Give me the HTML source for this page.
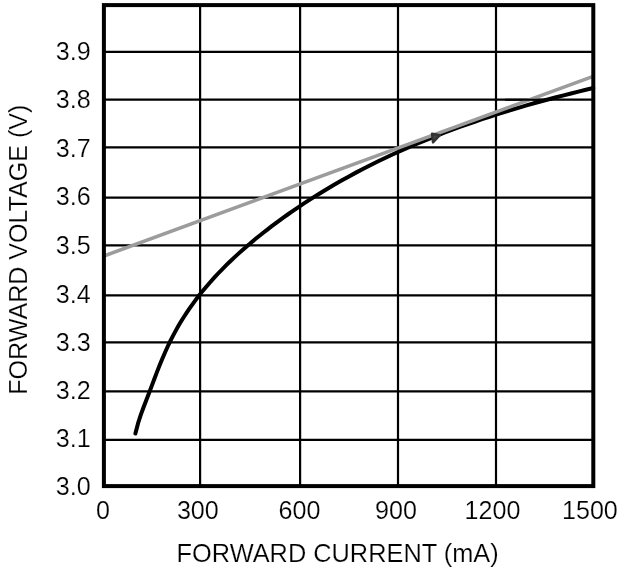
<!DOCTYPE html>
<html><head><meta charset="utf-8"><style>
html,body{margin:0;padding:0;background:#fff;}
svg{display:block;filter:grayscale(1);}
text{font-family:"Liberation Sans",sans-serif;font-size:26px;fill:#000;stroke:#fff;stroke-width:0.2px;}
</style></head><body>
<svg width="627" height="570" viewBox="0 0 627 570">
<rect width="627" height="570" fill="#fff"/>
<g stroke="#000" stroke-width="2.2" fill="none">
<line x1="200.1" y1="5.1" x2="200.1" y2="486.1"/>
<line x1="300.1" y1="5.1" x2="300.1" y2="486.1"/>
<line x1="398.0" y1="5.1" x2="398.0" y2="486.1"/>
<line x1="496.0" y1="5.1" x2="496.0" y2="486.1"/>
<line x1="103.9" y1="51.9" x2="593.3" y2="51.9"/>
<line x1="103.9" y1="99.7" x2="593.3" y2="99.7"/>
<line x1="103.9" y1="147.3" x2="593.3" y2="147.3"/>
<line x1="103.9" y1="197.6" x2="593.3" y2="197.6"/>
<line x1="103.9" y1="245.4" x2="593.3" y2="245.4"/>
<line x1="103.9" y1="295.4" x2="593.3" y2="295.4"/>
<line x1="103.9" y1="342.4" x2="593.3" y2="342.4"/>
<line x1="103.9" y1="391.3" x2="593.3" y2="391.3"/>
<line x1="103.9" y1="439.9" x2="593.3" y2="439.9"/>
</g>
<path d="M135.40,433.53 L138.09,423.13 L140.78,414.86 L143.47,407.52 L146.17,400.51 L148.86,393.51 L151.55,386.38 L154.24,379.20 L156.93,372.13 L159.62,365.28 L162.32,358.71 L165.01,352.44 L167.70,346.50 L170.39,340.89 L173.08,335.61 L175.78,330.61 L178.47,325.86 L181.16,321.34 L183.85,317.01 L186.54,312.87 L189.23,308.90 L191.93,305.07 L194.62,301.38 L197.31,297.81 L200.00,294.35 L202.00,291.85 L206.08,286.92 L210.17,282.19 L214.25,277.64 L218.33,273.26 L222.42,269.03 L226.50,264.93 L230.58,260.97 L234.67,257.11 L238.75,253.36 L242.83,249.72 L246.92,246.16 L251.00,242.69 L255.08,239.29 L259.17,235.98 L263.25,232.73 L267.33,229.55 L271.42,226.43 L275.50,223.37 L279.58,220.36 L283.67,217.41 L287.75,214.50 L291.83,211.65 L295.92,208.84 L300.00,206.08 L304.00,203.43 L311.42,198.61 L318.84,193.95 L326.25,189.42 L333.67,185.03 L341.09,180.77 L348.51,176.64 L355.93,172.63 L363.34,168.73 L370.76,164.95 L378.18,161.28 L385.60,157.71 L393.02,154.24 L400.43,150.87 L407.85,147.59 L415.27,144.40 L422.69,141.30 L430.11,138.28 L437.52,135.34 L444.94,132.47 L452.36,129.69 L459.78,126.97 L467.19,124.32 L474.61,121.75 L482.03,119.23 L489.45,116.78 L496.87,114.39 L504.28,112.06 L511.70,109.78 L519.12,107.56 L526.54,105.40 L533.96,103.29 L541.37,101.22 L548.79,99.21 L556.21,97.24 L563.63,95.32 L571.05,93.44 L578.46,91.61 L585.88,89.81 L593.30,88.06" stroke="#000" stroke-width="4.0" fill="none" stroke-linecap="round" stroke-linejoin="round"/>
<line x1="104.0" y1="256.0" x2="592.5" y2="76.7" stroke="#9c9c9c" stroke-width="3.5"/>
<line x1="505" y1="99.7" x2="552" y2="99.7" stroke="#000" stroke-width="2.1"/>
<polygon points="432,133.8 439.8,135.2 433,142.4" fill="#454545" stroke="#333" stroke-width="2.4" stroke-linejoin="round"/>
<rect x="103.9" y="5.1" width="489.4" height="481.0" fill="none" stroke="#000" stroke-width="4"/>
<text transform="translate(90.6,60.31) scale(0.965,1)" text-anchor="end">3.9</text>
<text transform="translate(90.6,108.41) scale(0.965,1)" text-anchor="end">3.8</text>
<text transform="translate(90.6,157.01) scale(0.965,1)" text-anchor="end">3.7</text>
<text transform="translate(90.6,205.31) scale(0.965,1)" text-anchor="end">3.6</text>
<text transform="translate(90.6,253.71) scale(0.965,1)" text-anchor="end">3.5</text>
<text transform="translate(90.6,302.91) scale(0.965,1)" text-anchor="end">3.4</text>
<text transform="translate(90.6,351.21) scale(0.965,1)" text-anchor="end">3.3</text>
<text transform="translate(90.6,398.71) scale(0.965,1)" text-anchor="end">3.2</text>
<text transform="translate(90.6,446.91) scale(0.965,1)" text-anchor="end">3.1</text>
<text transform="translate(90.6,495.41) scale(0.965,1)" text-anchor="end">3.0</text>
<text transform="translate(102.90,518.6) scale(0.965,1)" text-anchor="middle">0</text>
<text transform="translate(197.80,518.6) scale(0.965,1)" text-anchor="middle">300</text>
<text transform="translate(299.50,518.6) scale(0.965,1)" text-anchor="middle">600</text>
<text transform="translate(396.00,518.6) scale(0.965,1)" text-anchor="middle">900</text>
<text transform="translate(492.50,518.6) scale(0.965,1)" text-anchor="middle">1200</text>
<text transform="translate(589.90,518.6) scale(0.965,1)" text-anchor="middle">1500</text>
<text transform="translate(176.6,561.8) scale(0.976,1)">FORWARD CURRENT (mA)</text>
<text transform="translate(27.3,394.8) rotate(-90) scale(0.965,1)">FORWARD VOLTAGE (V)</text>
</svg>
</body></html>
